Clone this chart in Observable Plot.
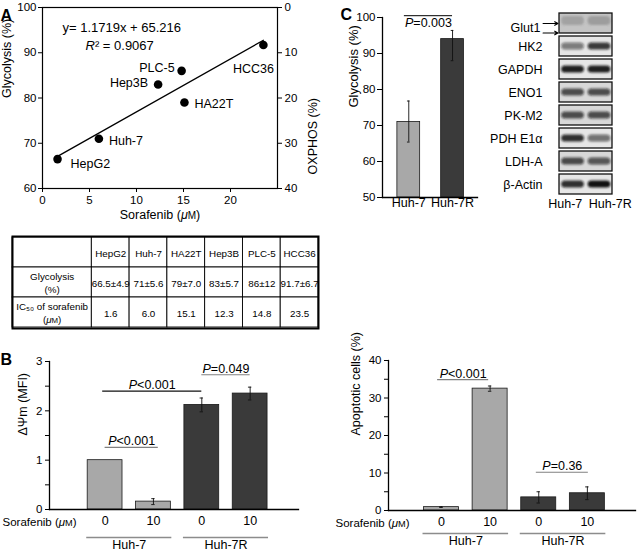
<!DOCTYPE html>
<html><head><meta charset="utf-8">
<script src="https://cdn.jsdelivr.net/npm/d3@7"></script>
<script src="https://cdn.jsdelivr.net/npm/@observablehq/plot@0.6"></script>
<style>
html,body{margin:0;padding:0;background:#fff;}
#fig{position:relative;width:638px;height:555px;overflow:hidden;background:#fff;}
#fig > div{position:absolute;line-height:0;}
#fig svg{overflow:visible;display:block;}
</style></head><body>
<svg width="0" height="0" style="position:absolute"><defs><filter id="blotBlur" x="-20%" y="-60%" width="140%" height="220%"><feGaussianBlur stdDeviation="1.0 0.8"/></filter></defs></svg>
<div id="fig"></div>
<script>
// ---------------- Data ----------------
// Panel A: scatter + table
const cellLines = ["HepG2", "Huh-7", "HA22T", "Hep3B", "PLC-5", "HCC36"];
const ic50 = [1.6, 6.0, 15.1, 12.3, 14.8, 23.5];
const glycolysis = [66.5, 71, 79, 83, 86, 91.7];
const glycolysisSd = ["4.9", "5.6", "7.0", "5.7", "12", "6.7"];
const equationText = "y= 1.1719x + 65.216";
const r2Text = "R² = 0.9067";
const scatterXTicks = [0, 5, 10, 15, 20];
const scatterYTicks = [60, 70, 80, 90, 100];
const oxphosTicks = [0, 10, 20, 30, 40];

// Panel C: bar chart + blot
const cGroups = ["Huh-7", "Huh-7R"];
const cGlycolysis = [71, 94];
const cErrLow = [65.4, 88];
const cErrHigh = [76.8, 96.4];
const cYTicks = [50, 60, 70, 80, 90, 100];
const cBracket = {from: 0.9, to: 2, y: 100.5, text: "P=0.003"};

const blotProteins = ["Glut1", "HK2", "GAPDH", "ENO1", "PK-M2", "PDH E1α", "LDH-A", "β-Actin"];
const blotLane1 = [0.30, 0.50, 0.92, 0.70, 0.70, 0.85, 0.72, 0.85];
const blotLane2 = [0.35, 0.80, 0.92, 0.70, 0.70, 0.55, 0.65, 0.98];
const blotLanes = ["Huh-7", "Huh-7R"];

// Panel B
const bGroups = ["Huh-7", "Huh-7", "Huh-7R", "Huh-7R"];
const bDoses = ["0", "10", "0", "10"];
const mmpValues = [1.0, 0.16, 2.12, 2.35];
const mmpErrors = [0, 0.06, 0.14, 0.13];
const mmpTicks = [0, 1, 2, 3];
const mmpMinorTicks = [0.5, 1.5, 2.5];
const mmpBrackets = [
  {from: 1, to: 2.1, y: 1.26, text: "P<0.001"},
  {from: 0.95, to: 3, y: 2.40, text: "P<0.001"},
  {from: 3, to: 4, y: 2.73, text: "P=0.049"}
];
const apoValues = [0.9, 32.5, 3.5, 4.6];
const apoErrors = [0.1, 0.7, 1.5, 1.7];
const apoTicks = [0, 10, 20, 30, 40];
const apoMinorTicks = [5, 15, 25, 35];
const apoBrackets = [
  {from: 0.92, to: 1.97, y: 34.9, text: "P<0.001"},
  {from: 2.95, to: 4.02, y: 10.2, text: "P=0.36"}
];

// ---------------- Helpers ----------------
const FONT = "'Liberation Sans', Arial, Helvetica, sans-serif";
const baseStyle = {fontFamily: FONT, fontSize: "11.5px", color: "#000", background: "transparent", overflow: "visible"};
const LIGHT = "#a8a8a8", DARK = "#3a3a3a";
const fig = document.getElementById("fig");

function esc(s) { return s.replace(/&/g, "&amp;").replace(/</g, "&lt;").replace(/>/g, "&gt;"); }
function richify(svg) {
  svg.querySelectorAll("text, tspan").forEach(t => {
    if (t.children.length) return;
    const s = t.textContent;
    if (/^P[<=]/.test(s)) t.innerHTML = `<tspan font-style="italic">P</tspan>${esc(s.slice(1))}`;
    else if (/^R²/.test(s)) t.innerHTML = `<tspan font-style="italic">R</tspan>${esc(s.slice(1))}`;
    else if (s.includes("(μM)")) {
      const [a, b] = s.split("(μM)");
      t.innerHTML = `${esc(a)}(<tspan font-style="italic">μ</tspan><tspan font-size="0.8em">M</tspan>)${esc(b)}`;
    }
  });
}
function place(svg, left, top) {
  const d = document.createElement("div");
  d.style.left = left + "px"; d.style.top = top + "px";
  d.appendChild(svg); fig.appendChild(d); richify(svg);
}
const blurRender = (index, scales, values, dimensions, context, next) => {
  const g = next(index, scales, values, dimensions, context);
  if (g) g.setAttribute("filter", "url(#blotBlur)");
  return g;
};
const one = s => [s];
const id = d => d;

// ---------------- Panel A: scatter ----------------
const points = cellLines.map((name, i) => ({name, ic50: ic50[i], gly: glycolysis[i]}));
const pointLabelStyle = {
  "HepG2": {dx: 13, dy: 5, textAnchor: "start"},
  "Huh-7": {dx: 10, dy: 2, textAnchor: "start"},
  "HA22T": {dx: 10, dy: 1, textAnchor: "start"},
  "Hep3B": {dx: -10, dy: -1, textAnchor: "end"},
  "PLC-5": {dx: -7, dy: -3, textAnchor: "end"},
  "HCC36": {dx: -10, dy: 24, textAnchor: "middle"}
};
const scatter = Plot.plot({
  width: 320, height: 226, marginLeft: 42, marginRight: 43, marginTop: 7, marginBottom: 38,
  style: baseStyle,
  x: {domain: [0, 25], axis: null},
  y: {domain: [60, 100], axis: null},
  marks: [
    Plot.frame({stroke: "#000", strokeWidth: 1.2}),
    Plot.axisX({ticks: scatterXTicks, tickSize: 4, tickPadding: 3, label: null, fontSize: 11.5}),
    Plot.axisY({ticks: scatterYTicks, tickSize: 4, tickPadding: 2, label: null, fontSize: 11.5}),
    Plot.axisY({anchor: "right", ticks: oxphosTicks.map(v => 100 - v), tickFormat: d => String(100 - d), tickSize: 4, tickPadding: 3, label: null, fontSize: 11.5}),
    Plot.text(one("Sorafenib (μM)"), {text: id, frameAnchor: "bottom", dy: 30, fontSize: 12.5}),
    Plot.text(one("Glycolysis (%)"), {text: id, frameAnchor: "left", dx: -36, rotate: -90, fontSize: 12.5}),
    Plot.text(one("OXPHOS (%)"), {text: id, frameAnchor: "right", dx: 35, rotate: -90, fontSize: 12.5}),
    Plot.linearRegressionY(points, {x: "ic50", y: "gly", ci: 0, stroke: "#000", strokeWidth: 1.3}),
    Plot.dot(points, {x: "ic50", y: "gly", r: 4.3, fill: "#000"}),
    ...cellLines.map(name => Plot.text(points.filter(p => p.name === name), {x: "ic50", y: "gly", text: "name", fontSize: 12.5, ...pointLabelStyle[name]})),
    Plot.text(one(equationText), {text: id, frameAnchor: "top-left", dx: 20, dy: 15, textAnchor: "start", fontSize: 13}),
    Plot.text(one(r2Text), {text: id, frameAnchor: "top-left", dx: 43, dy: 33, textAnchor: "start", fontSize: 13}),
    Plot.text(one("A"), {text: id, frameAnchor: "top-left", dx: -42, dy: 2, textAnchor: "start", fontSize: 16, fontWeight: "bold"})
  ]
});
place(scatter, 0, 0);

// ---------------- Panel A: table ----------------
const tableRows = ["header", "glycolysis", "ic50"];
const rowTitles = {header: "", glycolysis: "Glycolysis\n(%)", ic50: "IC₅₀ of sorafenib\n(μM)"};
const tableCells = [];
tableRows.forEach(row => {
  tableCells.push({row, col: 0, text: rowTitles[row]});
  cellLines.forEach((name, j) => {
    const text = row === "header" ? name
      : row === "glycolysis" ? `${glycolysis[j]}±${glycolysisSd[j]}`
      : ic50[j].toFixed(1);
    tableCells.push({row, col: j + 1, text});
  });
});
const colStart = c => c === 0 ? 0 : c + 1.1;
const colEnd = c => c === 0 ? 2.1 : c + 2.1;
const table = Plot.plot({
  width: 320, height: 104, marginLeft: 12, marginRight: 2, marginTop: 8, marginBottom: 4,
  style: {...baseStyle, fontSize: "9.8px"},
  x: {domain: [0, 8.1], axis: null},
  y: {type: "band", domain: tableRows, padding: 0, axis: null},
  marks: [
    Plot.barX(tableCells, {x1: d => colStart(d.col), x2: d => colEnd(d.col), y: "row", fill: "#fff", stroke: "#000", strokeWidth: 0.9}),
    Plot.frame({stroke: "#000", strokeWidth: 2}),
    Plot.text(tableCells, {x: d => (colStart(d.col) + colEnd(d.col)) / 2, y: "row", text: "text", lineHeight: 1.3, fontSize: 9.8})
  ]
});
place(table, 0, 228);

// ---------------- Panel C: bar chart ----------------
const cData = cGroups.map((name, i) => ({name, i: i + 1, v: cGlycolysis[i], lo: cErrLow[i], hi: cErrHigh[i]}));
const panelC = Plot.plot({
  width: 172, height: 215, marginLeft: 72, marginRight: 5, marginTop: 17, marginBottom: 18,
  style: baseStyle,
  x: {domain: [0.4, 2.57], axis: null},
  y: {domain: [50, 100], axis: null},
  color: {type: "identity"},
  marks: [
    Plot.rectY(cData, {x1: d => d.i - 0.26, x2: d => d.i + 0.26, y1: 50, y2: "v", fill: d => d.name === "Huh-7" ? LIGHT : DARK, stroke: "#1a1a1a", strokeWidth: 0.8}),
    Plot.ruleX(cData, {x: "i", y1: "lo", y2: "hi", stroke: "#111", strokeWidth: 0.9}),
    Plot.ruleY(cData, {x1: d => d.i - 0.03, x2: d => d.i + 0.03, y: "hi", stroke: "#111", strokeWidth: 0.9}),
    Plot.ruleY(cData, {x1: d => d.i - 0.03, x2: d => d.i + 0.03, y: "lo", stroke: "#111", strokeWidth: 0.9}),
    Plot.frame({anchor: "left", stroke: "#000", strokeWidth: 1.3}),
    Plot.frame({anchor: "bottom", stroke: "#000", strokeWidth: 1.3}),
    Plot.axisY({ticks: cYTicks, tickSize: 5, tickPadding: 2, label: null, fontSize: 11.5}),
    Plot.axisX({ticks: [1, 2], tickFormat: i => cGroups[i - 1], tickSize: 0, tickPadding: 1, label: null, fontSize: 12.5}),
    Plot.text(one("Glycolysis (%)"), {text: id, frameAnchor: "left", dx: -29, rotate: -90, fontSize: 13}),
    Plot.ruleY([cBracket], {x1: "from", x2: "to", y: "y", stroke: "#000", strokeWidth: 1}),
    Plot.text([cBracket], {x: d => (d.from + d.to) / 2, y: "y", text: "text", lineAnchor: "top", dy: 2, fontSize: 12.5}),
    Plot.text(one("C"), {text: id, frameAnchor: "top-left", dx: -42, dy: -9, textAnchor: "start", fontSize: 16, fontWeight: "bold"})
  ]
});
place(panelC, 310, 0);

// ---------------- Panel C: western blot ----------------
const blotBands = [];
blotProteins.forEach((p, k) => {
  blotBands.push({protein: p, lane: 0, intensity: blotLane1[k]});
  blotBands.push({protein: p, lane: 1, intensity: blotLane2[k]});
});
const boxShade = p => p === "Glut1" ? "#c4c4c4" : (p === "ENO1" || p === "LDH-A" || p === "PK-M2") ? "#d8d8d8" : "#e6e6e6";
const blotLaneData = blotLanes.map((name, lane) => ({name, lane}));
const blot = Plot.plot({
  width: 158, height: 222, marginLeft: 79, marginRight: 26, marginTop: 11, marginBottom: 26,
  style: baseStyle,
  x: {domain: [0, 2], axis: null},
  y: {type: "band", domain: blotProteins, paddingInner: 0.13, paddingOuter: 0.03, axis: null},
  color: {type: "identity"},
  opacity: {type: "identity"},
  marks: [
    Plot.barX(blotProteins, {x1: 0, x2: 2, y: id, fill: d => boxShade(d)}),
    Plot.barX(blotBands.filter(d => d.protein !== "Glut1"), {x1: d => d.lane + 0.08, x2: d => d.lane + 0.94, y: "protein", fill: "#111", fillOpacity: "intensity", insetTop: 6.5, insetBottom: 6.5, rx: 4, render: blurRender}),
    Plot.barX(blotBands.filter(d => d.protein === "Glut1"), {x1: d => d.lane + 0.08, x2: d => d.lane + 0.94, y: "protein", fill: "#555", fillOpacity: "intensity", insetTop: 3, insetBottom: 8, rx: 4, render: blurRender}),
    Plot.barX(blotProteins, {x1: 0, x2: 2, y: id, fill: "none", stroke: "#111", strokeWidth: 1.3}),
    Plot.text(blotProteins.filter(p => p !== "Glut1"), {x: 0, y: id, text: id, dx: -17, textAnchor: "end", fontSize: 12.5}),
    Plot.text(blotProteins.filter(p => p === "Glut1"), {x: 0, y: id, text: id, dx: -19, dy: 4.5, textAnchor: "end", fontSize: 12.5}),
    Plot.arrow(one("Glut1"), {x1: -0.62, x2: -0.06, y1: id, y2: id, dy: 0, stroke: "#000", strokeWidth: 1.1, headLength: 5}),
    Plot.arrow(one("Glut1"), {x1: -0.62, x2: -0.06, y1: id, y2: id, dy: 9.5, stroke: "#000", strokeWidth: 1.1, headLength: 5}),
    Plot.text(blotLaneData.filter(d => d.lane === 0), {x: d => d.lane + 0.5, text: "name", frameAnchor: "bottom", lineAnchor: "top", dx: -7.5, dy: 3, fontSize: 12.5}),
    Plot.text(blotLaneData.filter(d => d.lane === 1), {x: d => d.lane + 0.5, text: "name", frameAnchor: "bottom", lineAnchor: "top", dx: 11, dy: 3, fontSize: 12.5})
  ]
});
place(blot, 480, 0);

// ---------------- Panel B ----------------
function groupSpans(groups) {
  const spans = [];
  groups.forEach((g, k) => {
    const last = spans[spans.length - 1];
    if (last && last.name === g) last.to = k + 1;
    else spans.push({name: g, from: k + 1, to: k + 1});
  });
  return spans;
}
function bPanel(o) {
  const rows = bGroups.map((g, k) => ({group: g, dose: bDoses[k], i: k + 1, v: o.values[k], e: o.errors[k]}));
  const spans = groupSpans(bGroups);
  const withErr = rows.filter(d => d.e > 0);
  return Plot.plot({
    width: o.width, height: 215, marginLeft: o.marginLeft, marginRight: o.marginRight, marginTop: o.marginTop, marginBottom: o.marginBottom,
    style: baseStyle,
    x: {domain: o.xDomain, axis: null},
    y: {domain: o.yDomain, axis: null},
    color: {type: "identity"},
    marks: [
      Plot.rectY(rows, {x1: d => d.i - 0.36, x2: d => d.i + 0.36, y: "v", fill: d => d.group === "Huh-7" ? LIGHT : DARK, stroke: "#1a1a1a", strokeWidth: 0.8}),
      Plot.ruleX(withErr, {x: "i", y1: d => d.v - d.e, y2: d => d.v + d.e, stroke: "#111", strokeWidth: 0.9}),
      Plot.ruleY(withErr, {x1: d => d.i - 0.035, x2: d => d.i + 0.035, y: d => d.v + d.e, stroke: "#111", strokeWidth: 0.9}),
      Plot.ruleY(withErr, {x1: d => d.i - 0.035, x2: d => d.i + 0.035, y: d => d.v - d.e, stroke: "#111", strokeWidth: 0.9}),
      Plot.frame({anchor: "left", stroke: "#000", strokeWidth: 1.3}),
      Plot.frame({anchor: "bottom", stroke: "#000", strokeWidth: 1.3}),
      Plot.axisY({ticks: o.ticks, tickFormat: d => String(d), tickSize: 4, tickPadding: 3, label: null, fontSize: 11.5}),
      Plot.axisY({ticks: o.minor, tickFormat: () => "", tickSize: 4, tickPadding: 0, label: null}),
      Plot.text(one(o.label), {text: id, frameAnchor: "left", dx: -o.labelOffset, rotate: -90, fontSize: 12.5}),
      Plot.text(rows, {x: "i", text: "dose", frameAnchor: "bottom", dy: o.doseDy, fontSize: 12.5}),
      Plot.text(one("Sorafenib (μM)"), {text: id, frameAnchor: "bottom-left", dx: o.sorafenibDx, dy: o.doseDy + 0.5, textAnchor: "start", fontSize: 11.5}),
      Plot.ruleY(spans, {x1: d => (d.from + d.to) / 2 - 0.88, x2: d => (d.from + d.to) / 2 + 0.88, y: 0, dy: o.groupLineDy, stroke: "#8c8c8c", strokeWidth: 1.6}),
      Plot.text(spans, {x: d => (d.from + d.to) / 2, text: "name", frameAnchor: "bottom", dy: o.groupTextDy, fontSize: 12.5}),
      Plot.ruleY(o.brackets, {x1: "from", x2: "to", y: "y", stroke: (d, k) => o.bracketStrokes[k], strokeWidth: 1.1}),
      Plot.text(o.brackets, {x: d => (d.from + d.to) / 2, y: "y", text: "text", lineAnchor: "bottom", dy: -2, fontSize: 12.5}),
      ...(o.panelLabel ? [Plot.text(one(o.panelLabel), {text: id, frameAnchor: "top-left", dx: -o.marginLeft, dy: -8, textAnchor: "start", fontSize: 16, fontWeight: "bold"})] : [])
    ]
  });
}
place(bPanel({
  width: 310, marginLeft: 49, marginRight: 12, marginTop: 21, marginBottom: 46,
  xDomain: [-0.15, 5.0], yDomain: [0, 3], values: mmpValues, errors: mmpErrors,
  ticks: mmpTicks, minor: mmpMinorTicks, label: "ΔΨm (MFI)", labelOffset: 27,
  doseDy: 15.5, sorafenibDx: -47, groupLineDy: 28, groupTextDy: 39,
  brackets: mmpBrackets, bracketStrokes: ["#808080", "#111", "#808080"], panelLabel: "B"
}), 0, 340);
place(bPanel({
  width: 318, marginLeft: 68, marginRight: 3, marginTop: 20, marginBottom: 45,
  xDomain: [-0.09, 4.99], yDomain: [0, 40], values: apoValues, errors: apoErrors,
  ticks: apoTicks, minor: apoMinorTicks, label: "Apoptotic cells (%)", labelOffset: 33,
  doseDy: 15.5, sorafenibDx: -53, groupLineDy: 23, groupTextDy: 34,
  brackets: apoBrackets, bracketStrokes: ["#808080", "#808080"], panelLabel: null
}), 320, 340);
</script></body></html>
